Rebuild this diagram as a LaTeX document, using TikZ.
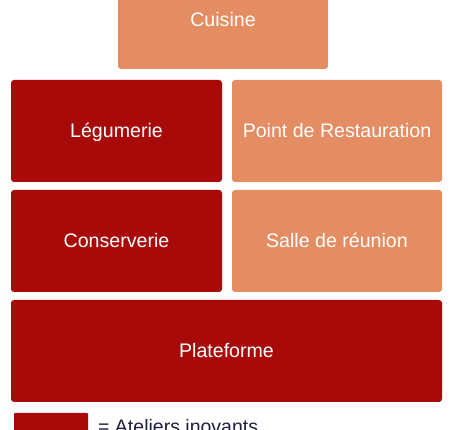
\documentclass[tikz,border=0pt]{standalone}
\usepackage{fontspec}
\setmainfont{Liberation Sans}
\definecolor{darkred}{HTML}{A80A0A}
\definecolor{peach}{HTML}{E48C62}
\definecolor{navy}{HTML}{1F1F3F}
\begin{document}
\begin{tikzpicture}[x=1pt,y=-1pt,
  cell/.style={rounded corners=3pt, inner sep=0pt, text=white,
    font=\fontsize{19.6}{22}\selectfont, text height=14pt, text depth=0pt},
  hot/.style={cell, fill=darkred},
  warm/.style={cell, fill=peach}]
\useasboundingbox (0,0) rectangle (459,430);
\clip (0,0) rectangle (459,430);
\node[warm, minimum width=210pt, minimum height=98pt] (cuisine) at (223,20) {Cuisine};
\node[hot, minimum width=211pt, minimum height=102pt] (leg) at (116.5,131) {Légumerie};
\node[warm, minimum width=210pt, minimum height=102pt] (point) at (337,131) {Point de Restauration};
\node[hot, minimum width=211pt, minimum height=102pt] (cons) at (116.5,241) {Conserverie};
\node[warm, minimum width=210pt, minimum height=102pt] (salle) at (337,241) {Salle de réunion};
\node[hot, minimum width=431pt, minimum height=102pt] (plat) at (226.5,351) {Plateforme};
\node[hot, rounded corners=1pt, minimum width=74pt, minimum height=30pt] (legbox) at (51,428) {};
\node[anchor=base west, inner sep=0pt, text=navy, font=\fontsize{19.5}{22}\selectfont] (legtext) at (98,434) {= Ateliers inovants};
\end{tikzpicture}
\end{document}
